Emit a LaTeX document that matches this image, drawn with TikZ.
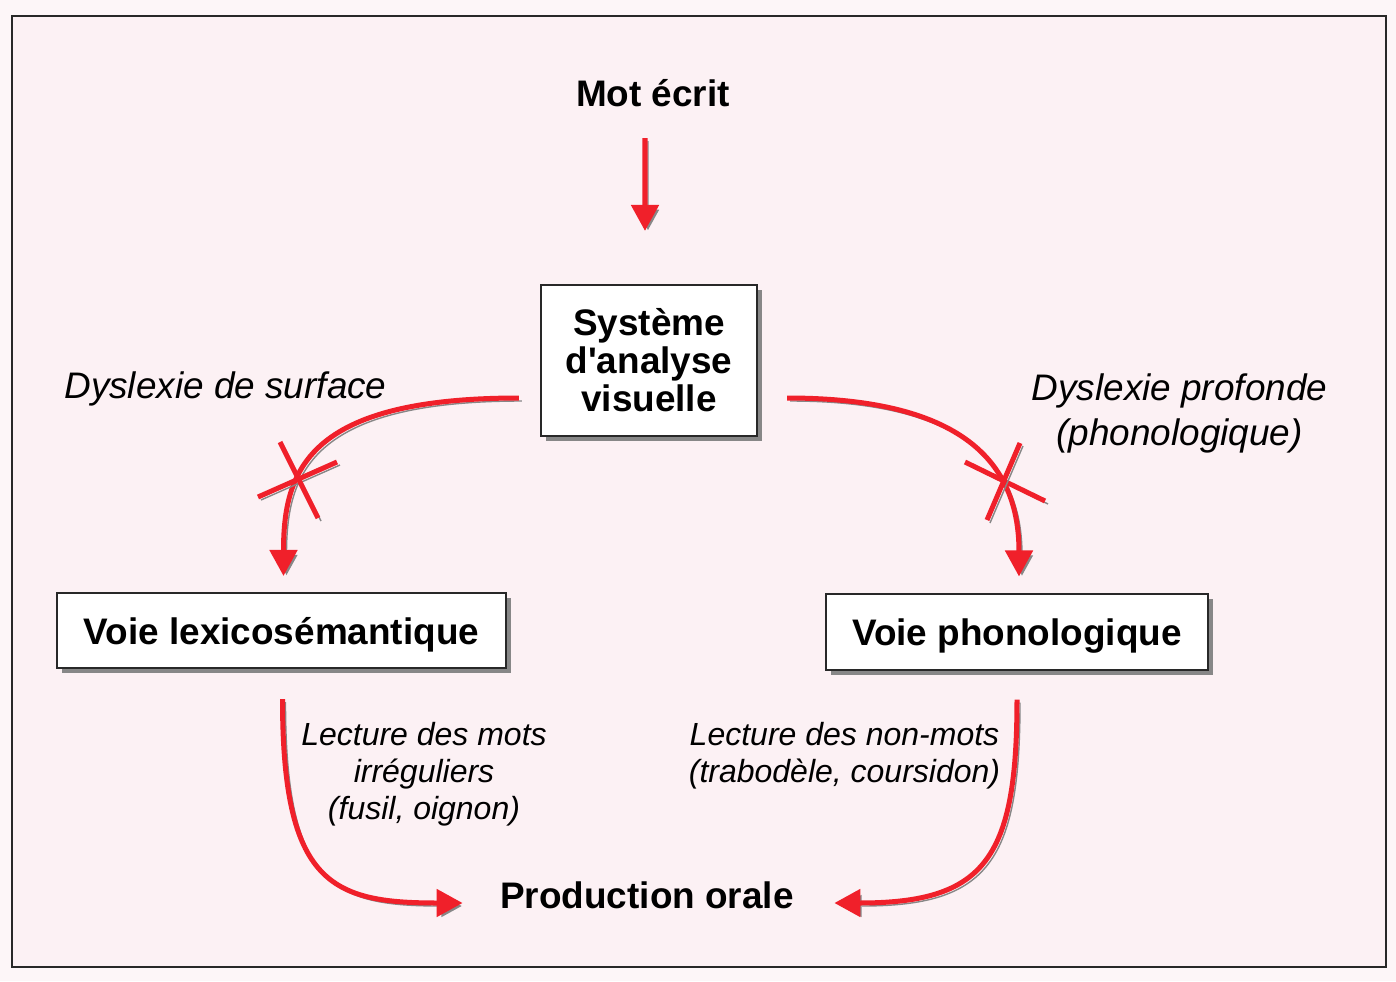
\documentclass[tikz,border=0pt]{standalone}
\usepackage{fontspec}
\setmainfont{Liberation Sans}
\usepackage{tikz}
\usetikzlibrary{positioning,arrows.meta,shadows}
\definecolor{rougefleche}{RGB}{240,32,42}
\definecolor{ombre}{RGB}{135,135,135}
\definecolor{fondrose}{RGB}{252,241,244}
\definecolor{pagerose}{RGB}{253,246,248}
\definecolor{cadre}{RGB}{40,40,40}
\tikzset{font=\fontsize{10.5}{10.8}\selectfont}
% straight apostrophe, outside the TeX mapping
\newcommand{\apos}{\XeTeXglyph\XeTeXcharglyph"0027\relax}

\begin{document}
\begin{tikzpicture}[x=0.01cm, y=-0.01cm]
		\tikzstyle{boite} = [rectangle, draw=cadre, line width=0.02cm, fill=white, align=center, font=\fontsize{10.5}{10.8}\selectfont\bfseries, drop shadow={shadow xshift=0.05cm, shadow yshift=-0.05cm, fill=ombre, opacity=1}];
		\tikzstyle{titre} = [inner sep=0pt, anchor=base, font=\fontsize{10.5}{10.8}\selectfont\bfseries];
		\tikzstyle{legende} = [inner sep=0pt, align=center, font=\fontsize{10.5}{12.8}\selectfont\itshape];
		\tikzstyle{lecture} = [inner sep=0pt, align=center, anchor=north, font=\fontsize{9.1}{10.5}\selectfont\itshape];
		\tikzstyle{fleche} = [draw=rougefleche, line width=0.05cm, -{Triangle[width=0.27cm,length=0.26cm]}, preaction={draw=ombre, transform canvas={shift={(3,3)}}}];
		\tikzstyle{barre} = [draw=rougefleche, line width=0.05cm, preaction={draw=ombre, transform canvas={shift={(3,3)}}}];
		
		\fill[pagerose] (0,0) rectangle (1396,981);
		\useasboundingbox (0,0) rectangle (1396,981);
		\draw[cadre, line width=0.025cm, fill=fondrose] (12,16) rectangle (1386,967);
		
		\node[boite, minimum width=2.16cm, minimum height=1.51cm](systeme) at (649,360.5){Système \\ d\apos analyse \\ visuelle};
		\node[boite, text height=0.27cm, text depth=0pt, minimum width=4.49cm, minimum height=0.75cm](lexico) at (281.5,630.5){Voie lexicosémantique};
		\node[boite, text height=0.27cm, text depth=0pt, minimum width=3.82cm, minimum height=0.75cm](phono) at (1017,632){Voie phonologique};
		\node[titre](mot) at (653,106){Mot écrit};
		\node[titre](production) at (647,908){Production orale};
		\node[legende, anchor=base](surface) at (225.5,398){Dyslexie de surface};
		\node[legende, anchor=north](profonde) at (1179.5,373){Dyslexie profonde \\ (phonologique)};
		\node[lecture](irreguliers) at (424,722){Lecture des mots \\ irréguliers \\ (fusil, oignon)};
		\node[lecture](nonmots) at (844.5,722){Lecture des non-mots \\ (trabodèle, coursidon)};
		\coordinate (xgauche) at (298,480);
		\coordinate (xdroite) at (1004,481.5);
		
		\draw[fleche, shorten <=0.31cm, shorten >=0.53cm] ([xshift=-0.08cm]mot.south) -- ([xshift=-0.04cm]systeme.north);
		\draw[fleche] ([shift={(-21,37.5)}]systeme.west) .. controls +(-212,0) and +(0,-105) .. ([shift={(2,-16)}]lexico.north);
		\draw[fleche] ([shift={(29,37.5)}]systeme.east) .. controls +(193,0) and +(0,-100) .. ([shift={(2,-17)}]phono.north);
		\draw[fleche] ([shift={(1,30)}]lexico.south) .. controls +(0,185) and +(-131,0) .. ([shift={(-37,-5)}]production.base west);
		\draw[fleche] ([shift={(0,29)}]phono.south) .. controls +(0,160) and +(150,0) .. ([shift={(40,-5)}]production.base east);
		
		\draw[barre] ([shift={(-40,17)}]xgauche) -- ([shift={(39,-18)}]xgauche);
		\draw[barre] ([shift={(-18,-38)}]xgauche) -- ([shift={(20,38)}]xgauche);
		\draw[barre] ([shift={(-39,-19.5)}]xdroite) -- ([shift={(41,19.5)}]xdroite);
		\draw[barre] ([shift={(16,-38.5)}]xdroite) -- ([shift={(-17,38.5)}]xdroite);
\end{tikzpicture}
\end{document}
